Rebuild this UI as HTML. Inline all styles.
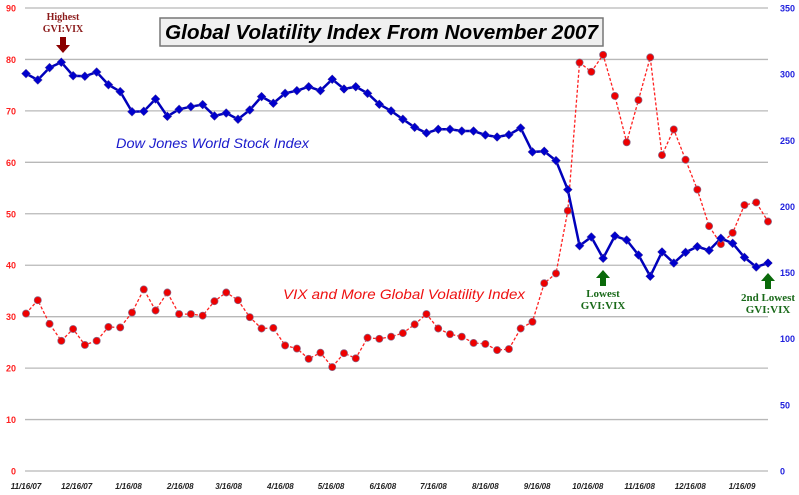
<!DOCTYPE html>
<html><head><meta charset="utf-8"><style>
html,body{margin:0;padding:0;background:#fff;}
svg{display:block;}
</style></head><body>
<svg id="chart" width="799" height="495" viewBox="0 0 799 495" xmlns="http://www.w3.org/2000/svg">
<g id="grid"></g>
<g id="lticks"></g>
<g id="rticks"></g>
<g id="xticks"></g>
<g id="series"></g>
<g>
<rect x="160" y="18" width="443" height="28" fill="#f0f0f0" stroke="#777" stroke-width="1.5"/>
<text x="165" y="39" font-family="Liberation Sans, sans-serif" font-size="20" font-weight="bold" font-style="italic" textLength="433" lengthAdjust="spacingAndGlyphs">Global Volatility Index From November 2007</text>
</g>
<text x="116" y="148" fill="#1a1acc" font-family="Liberation Sans, sans-serif" font-size="14" font-style="italic" textLength="193" lengthAdjust="spacingAndGlyphs">Dow Jones World Stock Index</text>
<text x="283" y="299" fill="#ee1111" font-family="Liberation Sans, sans-serif" font-size="14" font-style="italic" textLength="242" lengthAdjust="spacingAndGlyphs">VIX and More Global Volatility Index</text>
<g font-family="Liberation Serif, serif" font-weight="bold" font-size="10" fill="#8b1a1a" text-anchor="middle">
<text x="63" y="20">Highest</text><text x="63" y="32">GVI:VIX</text>
<path d="M60 37 h6 v8 h4 l-7 8 l-7 -8 h4 z" fill="#8b0000"/>
</g>
<g font-family="Liberation Serif, serif" font-weight="bold" font-size="11" fill="#1a6a1a" text-anchor="middle">
<path d="M603 270 l-7 8 h4 v8 h6 v-8 h4 z" fill="#0a6a0a"/>
<text x="603" y="297">Lowest</text><text x="603" y="309">GVI:VIX</text>
</g>
<g font-family="Liberation Serif, serif" font-weight="bold" font-size="11" fill="#1a6a1a" text-anchor="middle">
<path d="M768 273 l-7 8 h4 v8 h6 v-8 h4 z" fill="#0a6a0a"/>
<text x="768" y="301">2nd Lowest</text><text x="768" y="313">GVI:VIX</text>
</g>
</svg>
<script>
const leftTicks=[0,10,20,30,40,50,60,70,80,90];
const rightTicks=[0,50,100,150,200,250,300,350];
const xLabels=["11/16/07","12/16/07","1/16/08","2/16/08","3/16/08","4/16/08","5/16/08","6/16/08","7/16/08","8/16/08","9/16/08","10/16/08","11/16/08","12/16/08","1/16/09"];
const xLabelWeeks=[0,4.3,8.7,13.1,17.2,21.6,25.9,30.3,34.6,39.0,43.4,47.7,52.1,56.4,60.8];
const gviValues=[30.6,33.2,28.6,25.3,27.6,24.5,25.3,28.0,27.9,30.8,35.3,31.2,34.7,30.5,30.5,30.2,33.0,34.7,33.2,29.9,27.7,27.8,24.4,23.8,21.8,23.0,20.2,22.9,21.9,25.9,25.7,26.1,26.8,28.5,30.5,27.7,26.6,26.1,24.9,24.7,23.5,23.7,27.7,29.0,36.5,38.4,50.6,79.4,77.6,80.9,72.9,63.9,72.1,80.4,61.4,66.4,60.5,54.7,47.6,44.1,46.3,51.7,52.2,48.5];
const djwValues=[300.4,295.6,304.9,309.0,298.8,298.4,301.6,292.0,286.8,271.6,271.9,281.2,268.1,273.4,275.4,277.0,268.4,270.6,265.9,272.9,283.0,278.0,285.5,287.5,290.5,287.5,296.1,288.8,290.5,285.5,277.2,272.2,265.9,259.8,255.5,258.3,258.3,257.0,257.0,254.0,252.5,254.2,259.3,241.2,241.7,234.6,212.7,170.3,176.9,160.8,177.7,174.6,163.3,147.2,165.6,157.2,165.3,169.6,166.8,175.9,172.1,161.5,154.2,157.2];
const NS='http://www.w3.org/2000/svg';
const X0=26,X1=768,Y0=471,Y1=8;
const n=gviValues.length;
function xs(i){return X0+(X1-X0)*i/(n-1);}
function yl(v){return Y0-(Y0-Y1)*v/90;}
function yr(v){return Y0-(Y0-Y1)*v/350;}
function mk(tag,attrs,parent){const e=document.createElementNS(NS,tag);for(const k in attrs)e.setAttribute(k,attrs[k]);parent.appendChild(e);return e;}
const grid=document.getElementById('grid'),lt=document.getElementById('lticks'),rt=document.getElementById('rticks'),xt=document.getElementById('xticks'),se=document.getElementById('series');
leftTicks.forEach(v=>{
  const l=mk('line',{x1:25,x2:768,y1:yl(v),y2:yl(v),stroke:'#b8b8b8','stroke-width':1.3},grid);
  
  
  const t=mk('text',{x:16,y:yl(v)+3.5,'text-anchor':'end',fill:'#ff2020','font-family':'Liberation Sans, sans-serif','font-size':9,'font-weight':'bold'},lt);
  t.textContent=v;
  
  
});
rightTicks.forEach(v=>{
  const t=mk('text',{x:780,y:yr(v)+3.5,fill:'#2020dd','font-family':'Liberation Sans, sans-serif','font-size':9,'font-weight':'bold'},rt);
  t.textContent=v;
  
  
});
xLabels.forEach((s,i)=>{
  const t=mk('text',{x:xs(xLabelWeeks[i]),y:489,'text-anchor':'middle',fill:'#222','font-family':'Liberation Sans, sans-serif','font-size':8,'font-weight':'bold','font-style':'italic'},xt);
  t.textContent=s;
  
  
});
const rp=gviValues.map((v,i)=>xs(i)+','+yl(v)).join(' ');
const rl=mk('polyline',{points:rp,fill:'none',stroke:'#ff2020','stroke-width':1.3,'stroke-dasharray':'3,2'},se);


const bp=djwValues.map((v,i)=>xs(i)+','+yr(v)).join(' ');
const bl=mk('polyline',{points:bp,fill:'none',stroke:'#0000bb','stroke-width':2.5},se);


gviValues.forEach((v,i)=>{
  const c=mk('circle',{cx:xs(i),cy:yl(v),r:3.6,fill:'#ee0000',stroke:'#8a6a8a','stroke-width':0.7},se);
  
  
});
djwValues.forEach((v,i)=>{
  const x=xs(i),y=yr(v),d=4.5;
  const p=mk('polygon',{points:`${x},${y-d} ${x+d},${y} ${x},${y+d} ${x-d},${y}`,fill:'#0000cc',stroke:'#6a5a9a','stroke-width':0.5},se);
  
  
});
</script>
</body></html>
